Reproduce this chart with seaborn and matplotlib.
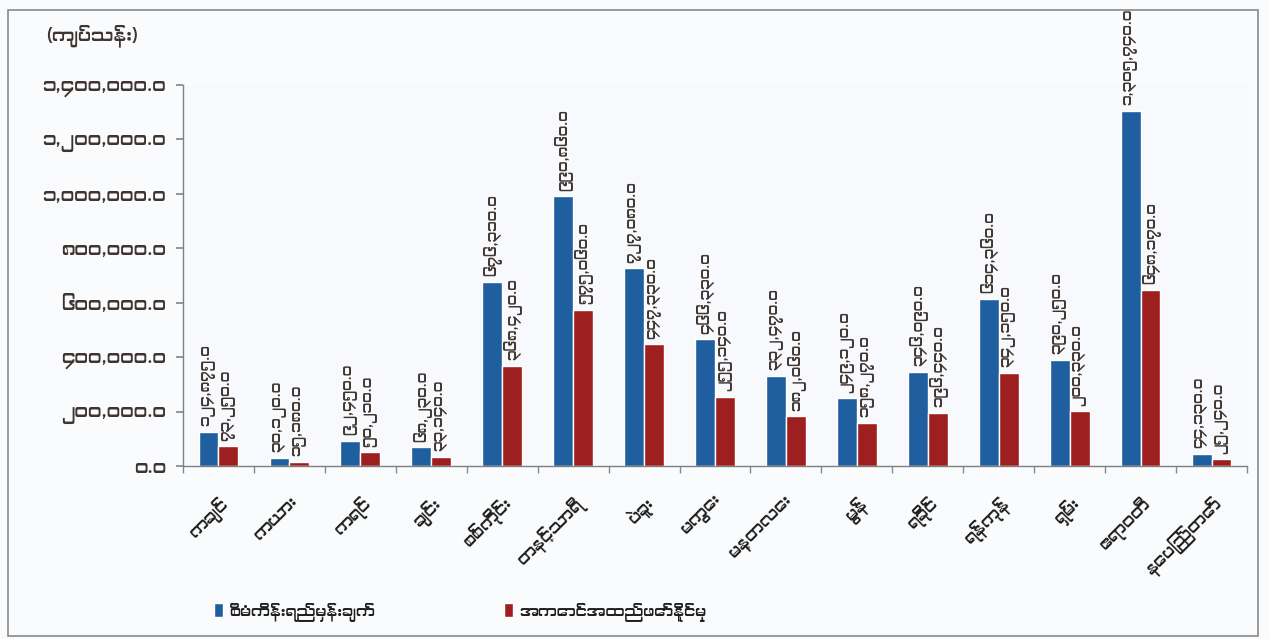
import numpy as np
import pandas as pd
import matplotlib
matplotlib.use("Agg")
import matplotlib.pyplot as plt
import seaborn as sns
from matplotlib import font_manager as fm
from matplotlib.patches import Rectangle, Patch

# ---------------- data ----------------
regions = ["ကချင်", "ကယား", "ကရင်", "ချင်း", "စစ်ကိုင်း", "တနင်္သာရီ", "ပဲခူး",
           "မကွေး", "မန္တလေး", "မွန်", "ရခိုင်", "ရန်ကုန်", "ရှမ်း", "ဧရာဝတီ", "နေပြည်တော်"]
plan = [124875.0, 30120.0, 92450.0, 68230.0, 676310.0, 990860.0, 727080.0,
        466330.0, 332470.0, 249120.0, 346090.0, 614360.0, 390250.0, 1305740.0, 44130.0]
actual = [73250.0, 15180.0, 50210.0, 33140.0, 368420.0, 575060.0, 447330.0,
          255140.0, 182060.0, 158270.0, 196440.0, 342150.0, 200330.0, 648170.0, 25240.0]
series_names = ["စီမံကိန်းရည်မှန်းချက်", "အကောင်အထည်ဖော်နိုင်မှု"]
unit_label = "(ကျပ်သန်း)"
y_ticks = [0, 200000, 400000, 600000, 800000, 1000000, 1200000, 1400000]

MY_DIGITS = str.maketrans("0123456789", "၀၁၂၃၄၅၆၇၈၉")


def my_num(v):
    return f"{v:,.1f}".translate(MY_DIGITS)


# ---------------- fonts ----------------
sns.set_theme(style="white")
names = {f.name for f in fm.fontManager.ttflist}
pref = ["Myanmar Khyay", "Myanmar Sans Pro", "Noto Sans Myanmar", "Noto Sans Myanmar UI",
        "Padauk", "Pyidaungsu"]
my_fonts = [n for n in pref if n in names]
if not my_fonts:
    my_fonts = sorted(n for n in names if "Myanmar" in n)
families = my_fonts[:1] + ["DejaVu Sans"]
plt.rcParams["font.family"] = families

BLUE = "#1f5f9f"
RED = "#9e1f1f"
TXT = "#3f3530"

W, H = 1269, 639
fig = plt.figure(figsize=(W / 100, H / 100), dpi=100, facecolor="#fafbfc")
ax = fig.add_axes([183 / W, 1 - 466 / H, (1247 - 183) / W, (466 - 85) / H])
ax.set_facecolor("#f7f9fc")

df = pd.DataFrame({
    "region": regions * 2,
    "value": plan + actual,
    "series": [series_names[0]] * len(regions) + [series_names[1]] * len(regions),
})
sns.barplot(data=df, x="region", y="value", hue="series", order=regions,
            hue_order=series_names, palette=[BLUE, RED], saturation=1,
            width=0.56, legend=False, ax=ax, errorbar=None)

for cont, vals in zip(ax.containers, [plan, actual]):
    ax.bar_label(cont, labels=[my_num(v) for v in vals], rotation=90, padding=4,
                 fontsize=10.5, color=TXT, clip_on=False)

ax.set_xlim(-0.5, len(regions) - 0.5)
ax.set_ylim(0, 1400000)
ax.set_yticks(y_ticks)
ax.set_yticklabels([my_num(v) for v in y_ticks], fontsize=13.5, fontweight="bold", color=TXT)
ax.set_xticks(range(len(regions)))
ax.set_xticklabels(regions, rotation=45, ha="right", rotation_mode="anchor",
                   fontsize=12, fontweight="bold", color="#1e1e1e")
ax.set_xticks(np.arange(-0.5, len(regions), 1), minor=True)
ax.tick_params(axis="x", which="major", length=0, pad=20)
ax.tick_params(axis="x", which="minor", length=5, color="#888888", direction="out", bottom=True)
ax.tick_params(axis="y", length=5, color="#888888", direction="out", left=True, pad=7)
ax.set_xlabel("")
ax.set_ylabel("")
for s in ["top", "right"]:
    ax.spines[s].set_visible(False)
for s in ["left", "bottom"]:
    ax.spines[s].set_color("#808080")
    ax.spines[s].set_linewidth(1.0)

fig.text(92 / W, 1 - 36 / H, unit_label, ha="center", va="center",
         fontsize=13, fontweight="bold", color=TXT)

# legend
leg1 = fig.legend(handles=[Patch(facecolor=BLUE)], labels=[series_names[0]],
                  loc="center left", bbox_to_anchor=(200 / W, 1 - 612 / H), frameon=False,
                  handlelength=0.6, handleheight=1.0, handletextpad=0.4, fontsize=11)
leg2 = fig.legend(handles=[Patch(facecolor=RED)], labels=[series_names[1]],
                  loc="center left", bbox_to_anchor=(490 / W, 1 - 612 / H), frameon=False,
                  handlelength=0.6, handleheight=1.0, handletextpad=0.4, fontsize=11)
for lg in (leg1, leg2):
    for t in lg.get_texts():
        t.set_fontweight("bold")
        t.set_color("#1e1e1e")

# outer chart border
fig.patches.append(Rectangle((8 / W, 1 - 636 / H), (1258 - 8) / W, (636 - 10) / H,
                             transform=fig.transFigure, fill=False,
                             edgecolor="#8a8a8a", linewidth=1.2))

fig.savefig("out.png", dpi=100, facecolor=fig.get_facecolor())
